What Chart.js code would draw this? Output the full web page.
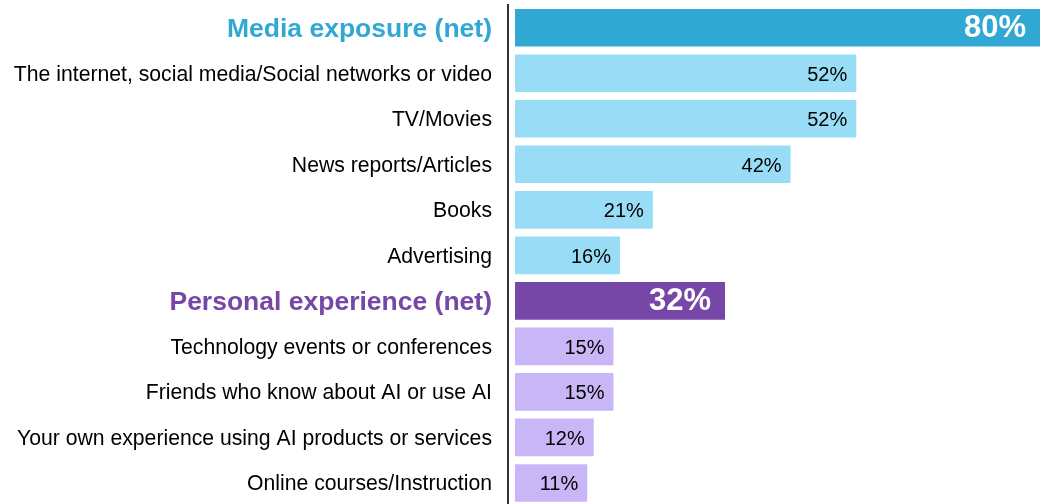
<!DOCTYPE html>
<html>
<head>
<meta charset="utf-8">
<script src="https://cdn.jsdelivr.net/npm/chart.js"></script>
<style>
  html, body { margin: 0; padding: 0; background: #fff; overflow: hidden; }
  #wrap { width: 1045px; height: 511px; }
</style>
</head>
<body>
<div id="wrap"><canvas id="ai_chart"></canvas></div>
<script>
const labels = [
  "Media exposure (net)",
  "The internet, social media/Social networks or video",
  "TV/Movies",
  "News reports/Articles",
  "Books",
  "Advertising",
  "Personal experience (net)",
  "Technology events or conferences",
  "Friends who know about AI or use AI",
  "Your own experience using AI products or services",
  "Online courses/Instruction"
];
const values = [80, 52, 52, 42, 21, 16, 32, 15, 15, 12, 11];
const isNet = [true, false, false, false, false, false, true, false, false, false, false];
const barColors = ["#31a8d3", "#98ddf5", "#98ddf5", "#98ddf5", "#98ddf5", "#98ddf5",
                   "#7747a8", "#c8b6f7", "#c8b6f7", "#c8b6f7", "#c8b6f7"];
const labelColors = ["#31a8d3", "#000", "#000", "#000", "#000", "#000",
                     "#7747a8", "#000", "#000", "#000", "#000"];

// value labels inside the bar end
const valueLabels = {
  id: "valueLabels",
  afterDatasetsDraw(chart) {
    const ctx = chart.ctx;
    const meta = chart.getDatasetMeta(0);
    ctx.save();
    ctx.textBaseline = "middle";
    ctx.textAlign = "right";
    meta.data.forEach((bar, i) => {
      if (isNet[i]) {
        ctx.font = "bold 31px 'Liberation Sans', Arial, sans-serif";
        ctx.fillStyle = "#fff";
        ctx.fillText(values[i] + "%", bar.x - 14, bar.y + 1);
      } else {
        ctx.font = "20px 'Liberation Sans', Arial, sans-serif";
        ctx.fillStyle = "#000";
        ctx.fillText(values[i] + "%", bar.x - 9, bar.y + 2);
      }
    });
    ctx.restore();
  }
};

new Chart("ai_chart", {
  type: "bar",
  data: {
    labels: labels,
    datasets: [{
      data: values,
      backgroundColor: barColors,
      barPercentage: 0.826,
      categoryPercentage: 1
    }]
  },
  options: {
    indexAxis: "y",
    responsive: true,
    maintainAspectRatio: false,
    animation: false,
    layout: { autoPadding: false, padding: { top: 5, right: 0, bottom: 0, left: 0 } },
    plugins: {
      legend: { display: false },
      tooltip: { enabled: false }
    },
    scales: {
      x: {
        display: false,
        min: -1.07,
        max: 80.76
      },
      y: {
        afterFit(scale) { scale.width = 508; },
        grid: { display: false, drawTicks: true, tickLength: 16 },
        border: { display: true, color: "#333", width: 2 },
        ticks: {
          padding: 0,
          labelOffset: 1.5,
          color: labelColors,
          font: (c) => isNet[c.index]
            ? { family: "'Liberation Sans', Arial, sans-serif", size: 26.5, weight: "bold", lineHeight: 0.4 }
            : { family: "'Liberation Sans', Arial, sans-serif", size: 21.2, lineHeight: 0.4 }
        }
      }
    }
  },
  plugins: [valueLabels]
});
</script>
</body>
</html>
